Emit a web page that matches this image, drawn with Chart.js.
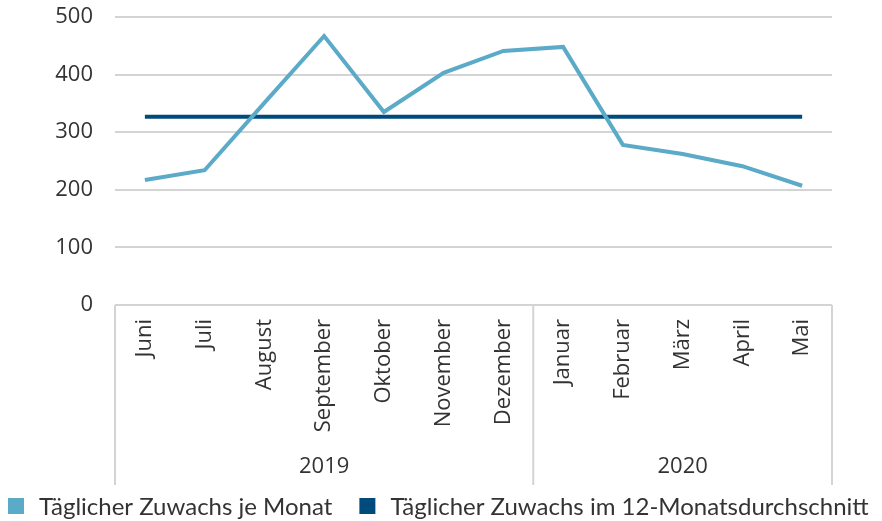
<!DOCTYPE html>
<html>
<head>
<meta charset="utf-8">
<script src="https://cdn.jsdelivr.net/npm/chart.js@4.4.1/dist/chart.umd.min.js"></script>
<style>
  html, body { margin: 0; padding: 0; background: #fff; }
  #wrap { width: 882px; height: 521px; }
</style>
</head>
<body>
<div id="wrap"><canvas id="chart" width="882" height="521"></canvas></div>
<script>
// Months and values
var months = ['Juni', 'Juli', 'August', 'September', 'Oktober', 'November', 'Dezember',
              'Januar', 'Februar', 'März', 'April', 'Mai'];
var monthly = [217, 234, 351, 467, 335, 403, 441, 448, 278, 262, 241, 207];
var average = [327, 327, 327, 327, 327, 327, 327, 327, 327, 327, 327, 327];

// Year groups below the months
var years = ['2019', '2020'];
var yearStart = [0, 7];
var yearEnd = [6, 11];

var yTicks = [0, 100, 200, 300, 400, 500];

var textColor = '#333333';
var gridColor = '#d4d4d4';

// Draws the category box, year separators, year labels and the legend
var groupPlugin = {
	id: 'groups',
	afterDraw: function(chart) {
		var ctx = chart.ctx;
		var x = chart.scales.x;
		var area = chart.chartArea;
		var step = x.getPixelForValue(1) - x.getPixelForValue(0);
		var bottom = x.bottom;

		ctx.save();
		ctx.strokeStyle = gridColor;
		ctx.lineWidth = 2;
		ctx.beginPath();
		ctx.moveTo(area.left, area.bottom);
		ctx.lineTo(area.left, bottom);
		for (var i = 0; i < years.length; i++) {
			var right = x.getPixelForValue(yearEnd[i]) + step / 2;
			ctx.moveTo(right, area.bottom);
			ctx.lineTo(right, bottom);
		}
		ctx.stroke();

		ctx.fillStyle = textColor;
		ctx.font = '22px "Open Sans"';
		ctx.textAlign = 'center';
		ctx.textBaseline = 'middle';
		for (var i = 0; i < years.length; i++) {
			var l = x.getPixelForValue(yearStart[i]) - step / 2;
			var r = x.getPixelForValue(yearEnd[i]) + step / 2;
			ctx.fillText(years[i], (l + r) / 2, bottom - 18);
		}

		// Legend in one row under the chart
		var lx = 8;
		var ly = 506;
		ctx.font = '24px Lato';
		ctx.textAlign = 'left';
		chart.data.datasets.forEach(function(ds) {
			ctx.fillStyle = ds.borderColor;
			ctx.fillRect(lx, ly - 8, 16, 16);
			lx += 31;
			ctx.fillStyle = textColor;
			ctx.fillText(ds.label, lx, ly + 1);
			lx += ctx.measureText(ds.label).width + 27;
		});
		ctx.restore();
	}
};

var ctx = document.getElementById('chart').getContext('2d');
var chart = new Chart(ctx, {
	type: 'line',
	data: {
		labels: months,
		datasets: [{
			label: 'Täglicher Zuwachs je Monat',
			data: monthly,
			borderColor: '#5aaac8',
			backgroundColor: '#5aaac8',
			borderWidth: 4,
			pointRadius: 0,
			tension: 0
		}, {
			label: 'Täglicher Zuwachs im 12-Monatsdurchschnitt',
			data: average,
			borderColor: '#004a7c',
			backgroundColor: '#004a7c',
			borderWidth: 4,
			pointRadius: 0,
			tension: 0
		}]
	},
	options: {
		responsive: false,
		animation: false,
		layout: { padding: { top: 17, right: 50, left: 0, bottom: 36 } },
		plugins: {
			tooltip: { enabled: false },
			legend: { display: false }
		},
		scales: {
			x: {
				offset: true,
				grid: { display: false },
				border: { display: false },
				ticks: {
					color: textColor,
					font: { family: '"Open Sans"', size: 22 },
					minRotation: 90,
					maxRotation: 90,
					autoSkip: false,
					padding: 6
				},
				afterFit: function(scale) {
					scale.height = 180;
					scale.paddingTop = 0;
					scale.paddingBottom = 0;
					scale.paddingLeft = 0;
					scale.paddingRight = 0;
				}
			},
			y: {
				min: 0,
				max: 500,
				afterBuildTicks: function(scale) {
					scale.ticks = yTicks.map(function(v) { return { value: v }; });
				},
				grid: { color: gridColor, lineWidth: 2, drawTicks: false },
				border: { display: false },
				ticks: {
					color: textColor,
					font: { family: '"Open Sans"', size: 22 },
					padding: 22
				},
				afterFit: function(scale) {
					scale.width = 115;
					scale.paddingTop = 0;
					scale.paddingBottom = 0;
				}
			}
		}
	},
	plugins: [groupPlugin]
});
</script>
</body>
</html>
